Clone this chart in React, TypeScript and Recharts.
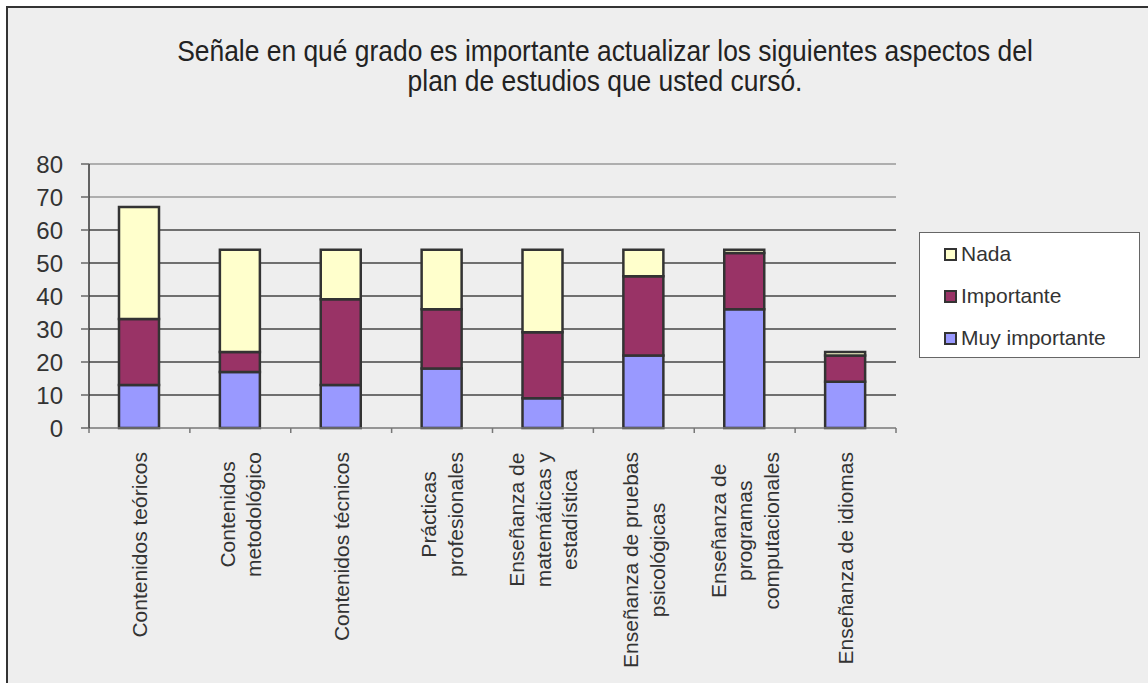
import React from 'react';
import { BarChart, Bar, XAxis, YAxis, CartesianGrid, Legend } from 'recharts';

const categories = [
  'Contenidos teóricos',
  'Contenidos\nmetodológico',
  'Contenidos técnicos',
  'Prácticas\nprofesionales',
  'Enseñanza de\nmatemáticas y\nestadística',
  'Enseñanza de pruebas\npsicológicas',
  'Enseñanza de\nprogramas\ncomputacionales',
  'Enseñanza de idiomas',
];
const muyImportante = [13, 17, 13, 18, 9, 22, 36, 14];
const importante = [20, 6, 26, 18, 20, 24, 17, 8];
const nada = [34, 31, 15, 18, 25, 8, 1, 1];
const yTicks = [0, 10, 20, 30, 40, 50, 60, 70, 80];
const darkGrid = [10, 20, 30, 40, 50, 60];
const lightGrid = [70, 80];
const titleLines = [
  'Señale en qué grado es importante actualizar los siguientes aspectos del',
  'plan de estudios que usted cursó.',
];

const series = [
  { key: 'muy', name: 'Muy importante', color: '#9999FF' },
  { key: 'imp', name: 'Importante', color: '#993366' },
  { key: 'nada', name: 'Nada', color: '#FFFFCC' },
];

const data = categories.map((c, i) => ({
  cat: c,
  muy: muyImportante[i],
  imp: importante[i],
  nada: nada[i],
}));

const FONT = '"Liberation Sans", Arial, sans-serif';

let canvas: HTMLCanvasElement | null = null;
function measure(text: string, font: string): number {
  if (!canvas) canvas = document.createElement('canvas');
  const ctx = canvas.getContext('2d');
  if (!ctx) return text.length * 10;
  ctx.font = font;
  return ctx.measureText(text).width;
}

const XTick = (props: any) => {
  const { x, y, payload, index, visibleTicksCount } = props;
  const half = payload && payload.offset ? payload.offset : 50.4;
  const lines = String(payload.value).split('\n');
  const fs = 21;
  const widths = lines.map((l) => measure(l, `${fs}px "Liberation Sans"`));
  const maxW = Math.max(...widths);
  const lh = 26.7;
  const n = lines.length;
  const top = y + 19;
  const last = index === (visibleTicksCount ?? categories.length) - 1;
  return (
    <g>
      <line x1={x - half} x2={x - half} y1={y - 5} y2={y} stroke="#777" strokeWidth={1.5} />
      {last && <line x1={x + half} x2={x + half} y1={y - 5} y2={y} stroke="#777" strokeWidth={1.5} />}
      <g transform={`translate(${x},${top}) rotate(-90)`}>
        {lines.map((l, i) => (
          <text
            key={i}
            x={-maxW / 2}
            y={(i - (n - 1) / 2) * lh}
            dy="0.36em"
            textAnchor="middle"
            fontSize={fs}
            fontFamily={FONT}
            fill="#333"
          >
            {l}
          </text>
        ))}
      </g>
    </g>
  );
};

const LegendBox = () => {
  const items = [...series].reverse();
  return (
    <div
      style={{
        width: 221,
        height: 126,
        boxSizing: 'border-box',
        border: '1px solid #666',
        background: '#ffffff',
        paddingTop: 0,
        fontFamily: FONT,
        fontSize: 21,
        color: '#333',
      }}
    >
      {items.map((s) => (
        <div key={s.key} style={{ display: 'flex', alignItems: 'center', height: 42, paddingLeft: 24 }}>
          <span
            style={{
              display: 'inline-block',
              width: 9,
              height: 9,
              background: s.color,
              border: '2px solid #333',
              marginRight: 4,
            }}
          />
          <span>{s.name}</span>
        </div>
      ))}
    </div>
  );
};

export default function App() {
  return (
    <div style={{ position: 'relative', width: 1148, height: 683, overflow: 'hidden', background: '#fff' }}>
      <style>{`body{margin:0;overflow:hidden;}`}</style>
      <div
        style={{
          position: 'absolute',
          left: 6,
          top: 6,
          width: 1300,
          height: 800,
          borderLeft: '2px solid #333',
          borderTop: '2px solid #333',
          background: '#eeeeee',
        }}
      />
      <div
        style={{
          position: 'absolute',
          left: 8,
          top: 36,
          width: 1194,
          textAlign: 'center',
          fontFamily: FONT,
          fontSize: 30,
          lineHeight: '30px',
          color: '#222',
          transform: 'scaleX(0.88)',
          transformOrigin: '597px 0',
          whiteSpace: 'nowrap',
        }}
      >
        {titleLines.map((t, i) => (
          <div key={i}>{t}</div>
        ))}
      </div>
      <div style={{ position: 'absolute', left: 0, top: 0 }}>
        <BarChart
          width={1148}
          height={683}
          data={data}
          margin={{ top: 164, right: 252, bottom: 0, left: 0 }}
          barCategoryGap={0}
        >
          <CartesianGrid vertical={false} horizontalValues={darkGrid} stroke="#444" strokeWidth={1.5} />
          <CartesianGrid vertical={false} horizontalValues={lightGrid} stroke="#999" strokeWidth={1.5} />
          <XAxis
            dataKey="cat"
            height={255}
            interval={0}
            tickLine={false}
            tickSize={5}
            tickMargin={0}
            axisLine={{ stroke: '#777', strokeWidth: 1.5 }}
            tick={<XTick />}
          />
          <YAxis
            width={89}
            domain={[0, 80]}
            ticks={yTicks}
            interval={0}
            tickSize={8}
            tickMargin={18}
            tickLine={{ stroke: '#666', strokeWidth: 1.5 }}
            axisLine={{ stroke: '#333', strokeWidth: 1.5 }}
            tick={{ fontSize: 24, fontFamily: FONT, fill: '#333' }}
          />
          <Legend
            layout="vertical"
            align="center"
            verticalAlign="middle"
            content={<LegendBox />}
            wrapperStyle={{ position: 'absolute', left: 919, top: 232, width: 221, height: 126 }}
          />
          {series.map((s) => (
            <Bar
              key={s.key}
              dataKey={s.key}
              name={s.name}
              stackId="a"
              fill={s.color}
              stroke="#333"
              strokeWidth={2.5}
              barSize={40}
              isAnimationActive={false}
            />
          ))}
        </BarChart>
      </div>
    </div>
  );
}
